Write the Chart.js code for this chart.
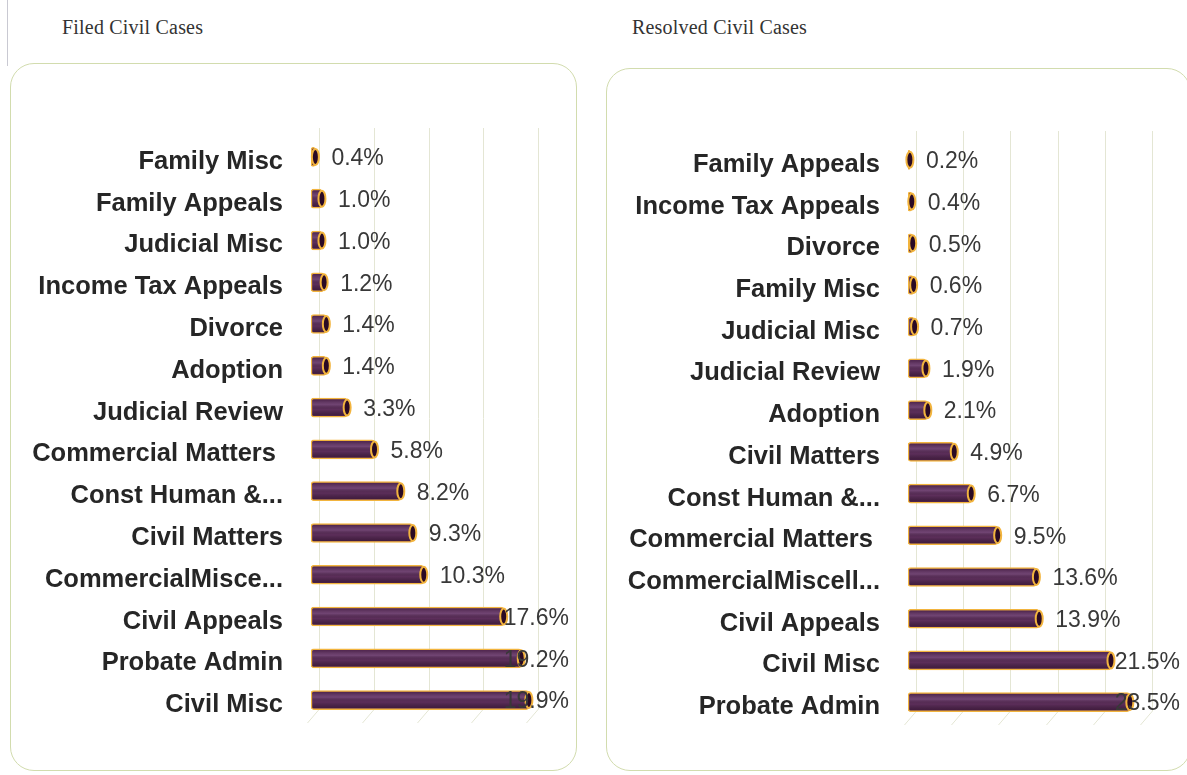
<!DOCTYPE html>
<html>
<head>
<meta charset="utf-8">
<script src="https://cdn.jsdelivr.net/npm/chart.js@4.4.1/dist/chart.umd.min.js"></script>
<style>
  body { margin: 0; background: #fff; width: 1187px; height: 775px; overflow: hidden; position: relative; }
  .title { position: absolute; top: 16px; font: 20px "Liberation Serif", "Times New Roman", serif; letter-spacing: 0.2px; color: #333; }
  .box { position: absolute; border: 1.5px solid #d2dcae; border-radius: 24px; box-sizing: border-box; }
  .wrap { position: absolute; }
  .edge { position: absolute; left: 7px; top: 0; width: 1px; height: 66px; background: #c9c9d2; }
</style>
</head>
<body>
<div class="edge"></div>
<div class="title" style="left:62px">Filed Civil Cases</div>
<div class="title" style="left:632px">Resolved Civil Cases</div>

<div class="box" style="left:10px; top:63px; width:567px; height:708px"></div>
<div class="box" style="left:606px; top:68px; width:585px; height:703px"></div>

<div class="wrap" style="left:10px; top:63px; width:566px; height:707px"><canvas id="filed"></canvas></div>
<div class="wrap" style="left:606px; top:68px; width:581px; height:702px"><canvas id="resolved"></canvas></div>

<script>
// filed civil cases (% share)
var filedLabels = ["Family Misc", "Family Appeals", "Judicial Misc", "Income Tax Appeals", "Divorce",
    "Adoption", "Judicial Review", "Commercial Matters ", "Const Human &...", "Civil Matters",
    "CommercialMisce...", "Civil Appeals", "Probate Admin", "Civil Misc"];
var filedValues = [0.4, 1.0, 1.0, 1.2, 1.4, 1.4, 3.3, 5.8, 8.2, 9.3, 10.3, 17.6, 19.2, 19.9];

// resolved civil cases (% share)
var resolvedLabels = ["Family Appeals", "Income Tax Appeals", "Divorce", "Family Misc", "Judicial Misc",
    "Judicial Review", "Adoption", "Civil Matters", "Const Human &...", "Commercial Matters ",
    "CommercialMiscell...", "Civil Appeals", "Civil Misc", "Probate Admin"];
var resolvedValues = [0.2, 0.4, 0.5, 0.6, 0.7, 1.9, 2.1, 4.9, 6.7, 9.5, 13.6, 13.9, 21.5, 23.5];

var filedMax = 20;
var resolvedMax = 25;

// grid with a little 3D floor, tube shading, end caps and the value labels
var barDecor = {
    id: "barDecor",
    beforeDatasetsDraw: function(chart) {
        var ctx = chart.ctx, xs = chart.scales.x, area = chart.chartArea;
        ctx.save();
        ctx.strokeStyle = "#e4e6d4";
        ctx.lineWidth = 1;
        for (var v = xs.min; v <= xs.max; v += 5) {
            var px = Math.round(xs.getPixelForValue(v)) + 8.5;
            ctx.beginPath();
            ctx.moveTo(px, area.top - 8);
            ctx.lineTo(px, area.bottom - 12);
            ctx.lineTo(px - 12, area.bottom + 2);
            ctx.stroke();
        }
        ctx.restore();
    },
    afterDatasetsDraw: function(chart) {
        var ctx = chart.ctx;
        var meta = chart.getDatasetMeta(0);
        var values = chart.data.datasets[0].data;
        ctx.save();
        meta.data.forEach(function(bar, i) {
            // tube shading over the bar body
            var h = bar.height, top = bar.y - h / 2;
            var left = Math.min(bar.base, bar.x), len = Math.abs(bar.x - bar.base);
            var g = ctx.createLinearGradient(0, top, 0, top + h);
            g.addColorStop(0, "rgba(40,5,35,0.55)");
            g.addColorStop(0.35, "rgba(150,110,160,0.35)");
            g.addColorStop(0.6, "rgba(0,0,0,0)");
            g.addColorStop(1, "rgba(40,5,35,0.55)");
            ctx.fillStyle = g;
            ctx.fillRect(left + 1.5, top + 1.5, Math.max(len - 3, 0), h - 3);

            ctx.beginPath();
            ctx.ellipse(bar.x, bar.y, 3.5, 8, 0, 0, Math.PI * 2);
            ctx.fillStyle = "#2a0a24";
            ctx.fill();
            ctx.lineWidth = 2;
            ctx.strokeStyle = "#f2b43e";
            ctx.stroke();

            var text = values[i].toFixed(1) + "%";
            ctx.font = '23px "Liberation Sans", Arial, sans-serif';
            ctx.fillStyle = "#383838";
            ctx.textBaseline = "middle";
            var w = ctx.measureText(text).width;
            var tx = Math.min(bar.x + 16, chart.width - 7 - w);
            ctx.fillText(text, tx, bar.y + 2);
        });
        ctx.restore();
    }
};

function makeChart(id, labels, values, maxVal, axisWidth, pad) {
    new Chart(document.getElementById(id), {
        type: "bar",
        data: {
            labels: labels,
            datasets: [{
                data: values,
                backgroundColor: "#5c2e5a",
                borderColor: "#f2b43e",
                borderWidth: 1.5,
                borderRadius: 3,
                borderSkipped: false,
                barThickness: 19
            }]
        },
        options: {
            indexAxis: "y",
            responsive: true,
            maintainAspectRatio: false,
            animation: false,
            layout: { padding: pad },
            plugins: {
                legend: { display: false },
                tooltip: { enabled: false }
            },
            scales: {
                x: { display: false, min: 0, max: maxVal },
                y: {
                    grid: { display: false, drawTicks: false },
                    border: { display: false },
                    afterFit: function(scale) { scale.width = axisWidth; },
                    ticks: {
                        padding: 28,
                        labelOffset: 5,
                        color: "#262626",
                        font: { family: '"Liberation Sans", Arial, sans-serif', size: 25.5, weight: "bold" }
                    }
                }
            }
        },
        plugins: [barDecor]
    });
}

makeChart("filed", filedLabels, filedValues, filedMax, 301, { left: 0, right: 46, top: 73, bottom: 49 });
makeChart("resolved", resolvedLabels, resolvedValues, resolvedMax, 302, { left: 0, right: 43, top: 71, bottom: 47 });
</script>
</body>
</html>
